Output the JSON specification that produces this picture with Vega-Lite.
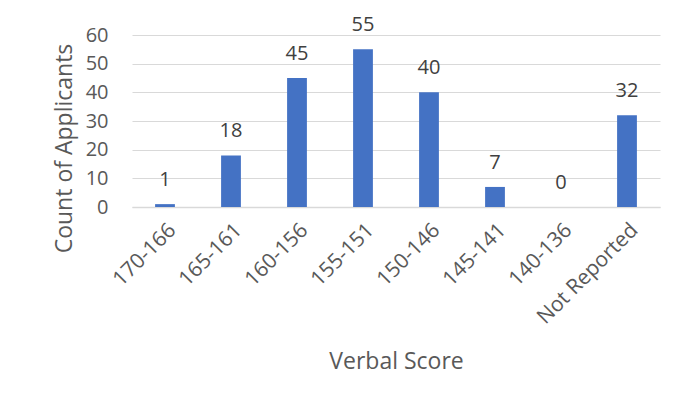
{
  "$schema": "https://vega.github.io/schema/vega-lite/v6.json",
  "autosize": {"type": "none"},
  "width": 528,
  "height": 172,
  "padding": {"left": 132, "top": 35, "right": 35, "bottom": 199},
  "background": "white",
  "config": {
    "view": {"stroke": null},
    "font": "Open Sans"
  },
  "data": {
    "values": [
      {"score": "170-166", "count": 1},
      {"score": "165-161", "count": 18},
      {"score": "160-156", "count": 45},
      {"score": "155-151", "count": 55},
      {"score": "150-146", "count": 40},
      {"score": "145-141", "count": 7},
      {"score": "140-136", "count": 0},
      {"score": "Not Reported", "count": 32}
    ]
  },
  "encoding": {
    "x": {
      "field": "score",
      "type": "nominal",
      "sort": null,
      "scale": {"paddingInner": 0.7, "paddingOuter": 0.35},
      "axis": {
        "title": "Verbal Score",
        "titleFont": "Open Sans",
        "titleFontSize": 23,
        "titleFontWeight": "normal",
        "titleColor": "#595959",
        "titlePadding": 23,
        "labelFont": "Open Sans",
        "labelAngle": -45,
        "labelFontSize": 21,
        "labelColor": "#595959",
        "labelPadding": 12,
        "ticks": false,
        "domainColor": "#D9D9D9",
        "domainWidth": 1.5
      }
    },
    "y": {
      "field": "count",
      "type": "quantitative",
      "scale": {"domain": [0, 60], "nice": false},
      "axis": {
        "title": "Count of Applicants",
        "titleFont": "Open Sans",
        "titleFontSize": 23,
        "titleFontWeight": "normal",
        "titleColor": "#595959",
        "titleX": -56,
        "titleY": 113,
        "values": [0, 10, 20, 30, 40, 50, 60],
        "labelFont": "Open Sans",
        "labelFontSize": 20,
        "labelColor": "#595959",
        "labelPadding": 24,
        "ticks": false,
        "domain": false,
        "gridColor": "#D9D9D9",
        "gridWidth": 1.2
      }
    }
  },
  "layer": [
    {"mark": {"type": "bar", "color": "#4472C4"}},
    {
      "mark": {"type": "text", "dy": -18, "fontSize": 20, "font": "Open Sans", "color": "#404040", "baseline": "alphabetic"},
      "encoding": {"text": {"field": "count", "type": "quantitative"}}
    }
  ]
}
